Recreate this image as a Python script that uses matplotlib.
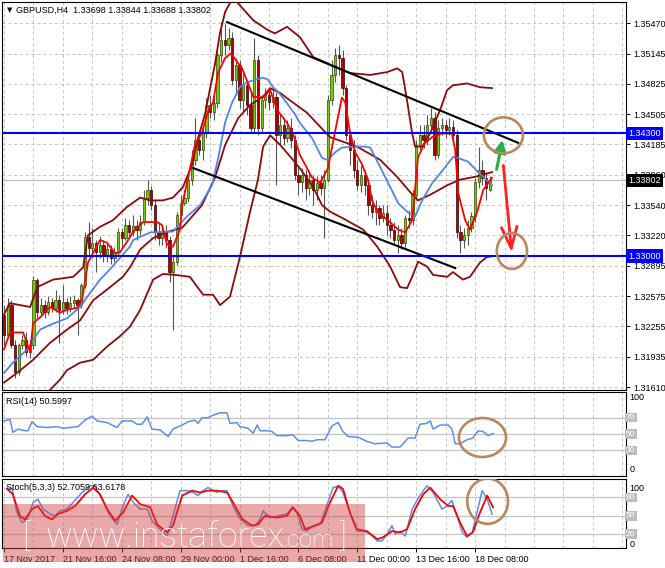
import matplotlib
matplotlib.use("Agg")
import matplotlib.pyplot as plt
from matplotlib.patches import Ellipse, Rectangle

plt.rcParams['font.family'] = ['Liberation Sans', 'DejaVu Sans']

# ---------------- data (GBPUSD H4, bar index 0 = 17 Nov 2017 00:00) ----------------
opens = [1.3238, 1.3216, 1.3248, 1.3206, 1.3177, 1.3206, 1.3211, 1.3198, 1.3206, 1.3275,
         1.3241, 1.3248, 1.3241, 1.3251, 1.3245, 1.3253, 1.3243, 1.3251, 1.3245, 1.3250,
         1.3253, 1.3248, 1.3269, 1.3320, 1.3309, 1.3314, 1.3304, 1.3312, 1.3301, 1.3307,
         1.3298, 1.3304, 1.3325, 1.3319, 1.3333, 1.3326, 1.3332, 1.3328, 1.3336, 1.3362,
         1.3370, 1.3354, 1.3326, 1.3319, 1.3326, 1.3317, 1.3283, 1.3294, 1.3344, 1.3356,
         1.3362, 1.3381, 1.3402, 1.3423, 1.3412, 1.3431, 1.3460, 1.3453, 1.3462, 1.3513,
         1.3529, 1.3524, 1.3531, 1.3487, 1.3503, 1.3465, 1.3481, 1.3460, 1.3436, 1.3508,
         1.3436, 1.3465, 1.3471, 1.3463, 1.3469, 1.3428, 1.3439, 1.3425, 1.3436, 1.3423,
         1.3386, 1.3378, 1.3386, 1.3372, 1.3381, 1.3370, 1.3377, 1.3372, 1.3381, 1.3465,
         1.3492, 1.3513, 1.3510, 1.3478, 1.3428, 1.3412, 1.3391, 1.3375, 1.3386, 1.3375,
         1.3354, 1.3347, 1.3351, 1.3340, 1.3346, 1.3333, 1.3328, 1.3317, 1.3322, 1.3314,
         1.3340, 1.3338, 1.3365, 1.3418, 1.3428, 1.3423, 1.3439, 1.3446, 1.3407, 1.3436,
         1.3439, 1.3434, 1.3437, 1.3428, 1.3326, 1.3317, 1.3322, 1.3330, 1.3342, 1.3378,
         1.3391, 1.3383, 1.33698]
highs = [1.3248, 1.3256, 1.3253, 1.3211, 1.3208, 1.3216, 1.3219, 1.3211, 1.3279, 1.3277,
         1.3256, 1.3253, 1.3258, 1.3256, 1.3264, 1.3259, 1.3269, 1.3256, 1.3258, 1.3259,
         1.3256, 1.3271, 1.3325, 1.3336, 1.3330, 1.3317, 1.3321, 1.3317, 1.3314, 1.3312,
         1.3310, 1.3330, 1.3330, 1.3340, 1.3338, 1.3344, 1.3338, 1.3344, 1.3370, 1.3381,
         1.3374, 1.3359, 1.3336, 1.3333, 1.3333, 1.3321, 1.3301, 1.3347, 1.3365, 1.3370,
         1.3386, 1.3412, 1.3446, 1.3431, 1.3436, 1.3468, 1.3471, 1.3470, 1.3518, 1.3548,
         1.3546, 1.3542, 1.3537, 1.3510, 1.3508, 1.3495, 1.3487, 1.3476, 1.3531, 1.3513,
         1.3471, 1.3478, 1.3476, 1.3478, 1.3474, 1.3450, 1.3446, 1.3444, 1.3446, 1.3428,
         1.3397, 1.3393, 1.3391, 1.3389, 1.3386, 1.3385, 1.3386, 1.3391, 1.3471, 1.3508,
         1.3521, 1.3524, 1.3518, 1.3481, 1.3434, 1.3423, 1.3402, 1.3397, 1.3391, 1.3381,
         1.3365, 1.3359, 1.3354, 1.3354, 1.3354, 1.3340, 1.3336, 1.3333, 1.3330, 1.3344,
         1.3349, 1.3370, 1.3423, 1.3439, 1.3439, 1.3450, 1.3457, 1.3453, 1.3444, 1.3446,
         1.3444, 1.3446, 1.3444, 1.3434, 1.3333, 1.3330, 1.3338, 1.3347, 1.3383, 1.3416,
         1.3402, 1.3389, 1.33844]
lows = [1.3206, 1.3213, 1.3203, 1.3171, 1.3174, 1.3201, 1.3194, 1.3192, 1.3201, 1.3234,
        1.3237, 1.3234, 1.3238, 1.3241, 1.3241, 1.3208, 1.3239, 1.3239, 1.3241, 1.3245,
        1.3216, 1.3245, 1.3266, 1.3301, 1.3298, 1.3283, 1.3298, 1.3294, 1.3294, 1.3292,
        1.3294, 1.3300, 1.3309, 1.3317, 1.3319, 1.3321, 1.3317, 1.3322, 1.3333, 1.3354,
        1.3349, 1.3317, 1.3312, 1.3312, 1.3309, 1.3273, 1.3222, 1.3291, 1.3340, 1.3354,
        1.3357, 1.3375, 1.3397, 1.3407, 1.3402, 1.3425, 1.3446, 1.3444, 1.3457, 1.3506,
        1.3513, 1.3518, 1.3481, 1.3471, 1.3457, 1.3453, 1.3450, 1.3431, 1.3431, 1.3428,
        1.3430, 1.3457, 1.3455, 1.3457, 1.3375, 1.3418, 1.3418, 1.3421, 1.3415, 1.3381,
        1.3365, 1.3368, 1.3359, 1.3365, 1.3354, 1.3359, 1.3365, 1.3319, 1.3378, 1.3460,
        1.3484, 1.3492, 1.3471, 1.3423, 1.3397, 1.3383, 1.3370, 1.3368, 1.3365, 1.3344,
        1.3340, 1.3333, 1.3333, 1.3336, 1.3322, 1.3319, 1.3312, 1.3303, 1.3307, 1.3310,
        1.3330, 1.3333, 1.3359, 1.3412, 1.3415, 1.3418, 1.3434, 1.3402, 1.3404, 1.3428,
        1.3425, 1.3428, 1.3423, 1.3319, 1.3303, 1.3309, 1.3312, 1.3326, 1.3336, 1.3372,
        1.3375, 1.3359, 1.33688]
closes = [1.3216, 1.3248, 1.3206, 1.3177, 1.3206, 1.3211, 1.3198, 1.3206, 1.3275, 1.3241,
          1.3248, 1.3241, 1.3251, 1.3245, 1.3253, 1.3243, 1.3251, 1.3245, 1.3250, 1.3253,
          1.3248, 1.3269, 1.3320, 1.3309, 1.3314, 1.3304, 1.3312, 1.3301, 1.3307, 1.3298,
          1.3304, 1.3325, 1.3319, 1.3333, 1.3326, 1.3332, 1.3328, 1.3336, 1.3362, 1.3370,
          1.3354, 1.3326, 1.3319, 1.3326, 1.3317, 1.3283, 1.3294, 1.3344, 1.3356, 1.3362,
          1.3381, 1.3402, 1.3423, 1.3412, 1.3431, 1.3460, 1.3453, 1.3462, 1.3513, 1.3529,
          1.3524, 1.3531, 1.3487, 1.3503, 1.3465, 1.3481, 1.3460, 1.3436, 1.3508, 1.3436,
          1.3465, 1.3471, 1.3463, 1.3469, 1.3428, 1.3439, 1.3425, 1.3436, 1.3423, 1.3386,
          1.3378, 1.3386, 1.3372, 1.3381, 1.3370, 1.3377, 1.3372, 1.3381, 1.3465, 1.3492,
          1.3513, 1.3510, 1.3478, 1.3428, 1.3412, 1.3391, 1.3375, 1.3386, 1.3375, 1.3354,
          1.3347, 1.3351, 1.3340, 1.3346, 1.3333, 1.3328, 1.3317, 1.3322, 1.3314, 1.3340,
          1.3338, 1.3365, 1.3418, 1.3428, 1.3423, 1.3439, 1.3446, 1.3407, 1.3436, 1.3439,
          1.3434, 1.3437, 1.3428, 1.3326, 1.3317, 1.3322, 1.3330, 1.3342, 1.3378, 1.3391,
          1.3383, 1.3372, 1.33802]

# fast moving average (red)
fast_x = [0, 1.6, 5.2, 7.1, 7.9, 9.8, 12.5, 15.2, 17.1, 19.8, 21.2, 22.8, 24.7, 26.1, 28, 30.2,
          31.5, 33.4, 35.1, 37.8, 41.6, 42.9, 44.3, 45.9, 47.8, 48.4, 50, 51.9, 53.8, 55.4, 56.8,
          58.2, 60.1, 61.7, 63.3, 64.7, 67.7, 70.4, 72.3, 74.2, 76.9, 78.5, 80.4, 81.8, 83.7,
          85.9, 88, 89.9, 91.8, 92.7, 94, 95.4, 97.3, 98.9, 100, 101.6, 104.3, 107.1, 109, 110.9,
          112.5, 114.4, 116.3, 119, 121.7, 122.6, 123.4, 125.3, 126.6, 128.5, 130.2, 132.6]
fast_ma = [1.3201, 1.3219, 1.3219, 1.3198, 1.3229, 1.3235, 1.3246, 1.3240, 1.3243, 1.3245,
           1.3253, 1.3293, 1.3307, 1.3317, 1.3314, 1.3303, 1.3304, 1.3315, 1.3326, 1.3336,
           1.3336, 1.3333, 1.3312, 1.3310, 1.3328, 1.3354, 1.3383, 1.3418, 1.3431, 1.3453,
           1.3463, 1.3495, 1.3510, 1.3515, 1.3506, 1.3499, 1.3469, 1.3468, 1.3476, 1.3455,
           1.3441, 1.3430, 1.3407, 1.3397, 1.3383, 1.3378, 1.3393, 1.3431, 1.3468, 1.3463,
           1.3431, 1.3410, 1.3397, 1.3381, 1.3359, 1.3346, 1.3338, 1.3328, 1.3325, 1.3338,
           1.3405, 1.3420, 1.3426, 1.3430, 1.3430, 1.3412, 1.3367, 1.3338, 1.3328, 1.3346,
           1.3370, 1.3383]

# slow moving average (blue)
slow_x = [0, 2.4, 6.3, 9.8, 12.5, 17.1, 20.7, 23.4, 26.1, 28.8, 31.5, 34.2, 35.1, 39.7, 45.9,
          49.7, 53.3, 56.5, 58.2, 60.1, 62, 64.1, 66, 68.2, 70.4, 71.7, 73.1, 74.5, 76.9, 79.1,
          80.4, 83.7, 86.4, 87.8, 90, 91.8, 95.4, 98.1, 99.5, 101.6, 104.3, 107.1, 109.8, 111.7,
          113.6, 116.3, 119.8, 122, 123.4, 126.1, 128.8, 132.6]
slow_ma = [1.3176, 1.3187, 1.3201, 1.3222, 1.3227, 1.3234, 1.3246, 1.3261, 1.3275, 1.3286,
           1.3298, 1.3310, 1.3317, 1.3325, 1.3326, 1.3342, 1.3354, 1.3375, 1.3404, 1.3442,
           1.3463, 1.3479, 1.3484, 1.3487, 1.3489, 1.3487, 1.3479, 1.3474, 1.3462, 1.3450,
           1.3441, 1.3425, 1.3404, 1.3402, 1.3410, 1.3415, 1.3416, 1.3416, 1.3415, 1.3399,
           1.3378, 1.3356, 1.3346, 1.3342, 1.3359, 1.3377, 1.3394, 1.3405, 1.3404, 1.3400,
           1.3389, 1.3375]

# Bollinger bands (dark red)
bb_up_x = [0, 1.6, 7.1, 9, 13.3, 18.8, 21.5, 22.8, 26.1, 29.6, 33.4, 37, 39.7, 43.2, 45.9,
           48.6, 51.1, 52.7, 54.6, 56, 57.3, 58.7, 60.1, 62.2, 67.7, 71.5, 73.6, 76.9, 80.4,
           84, 88.6, 94, 99.5, 104.1, 106.8, 108.2, 109.5, 110.9, 111.7, 113.6, 115.8, 118.5,
           120.4, 122, 125.8, 129.3, 132.6]
bb_up = [1.3238, 1.3250, 1.3246, 1.3267, 1.3275, 1.3278, 1.3288, 1.3322, 1.3331, 1.3338,
         1.3352, 1.3362, 1.3359, 1.3359, 1.3362, 1.3373, 1.3397, 1.3425, 1.3450, 1.3478,
         1.3503, 1.3537, 1.3559, 1.3574, 1.3550, 1.3540, 1.3536, 1.3543, 1.3532, 1.3511,
         1.3503, 1.3494, 1.3492, 1.3495, 1.3499, 1.3495, 1.3465, 1.3430, 1.3416, 1.3416,
         1.3430, 1.3455, 1.3476, 1.3481, 1.3483, 1.3479, 1.3478]
bb_mid_x = [0, 3.5, 7.9, 12.5, 17.1, 20.7, 24.2, 28.8, 32.3, 34.2, 37, 40.5, 43.8, 48.4, 53.8,
            57.3, 60.1, 63.6, 66.8, 70.4, 72.3, 75, 77.7, 82.3, 85.9, 88.6, 95.9, 102.2, 106.8,
            110.3, 112.5, 115.8, 120.4, 123.9, 128, 132.6]
bb_mid = [1.3166, 1.3176, 1.3190, 1.3208, 1.3222, 1.3232, 1.3253, 1.3267, 1.3278, 1.3288,
          1.3307, 1.3319, 1.3325, 1.3330, 1.3354, 1.3383, 1.3418, 1.3446, 1.3460, 1.3469,
          1.3478, 1.3473, 1.3465, 1.3452, 1.3437, 1.3426, 1.3416, 1.3402, 1.3384, 1.3368,
          1.3359, 1.3365, 1.3375, 1.3381, 1.3384, 1.3389]
bb_low_x = [0, 7.1, 12.5, 15.2, 17.1, 20.7, 24.2, 28, 31.5, 34.2, 37, 40.5, 43.2, 46.5, 50.5,
            54.1, 56.8, 58.7, 61.4, 64.1, 66.8, 69, 70.4, 72.3, 75, 78.5, 80.4, 84, 86.4, 88.6,
            92.1, 97.6, 101.4, 104.9, 107.6, 109.5, 110.9, 112.5, 114.9, 116.6, 120.4, 122,
            124.7, 126.6, 129.3, 131.2, 132.9]
bb_low = [1.3105, 1.3137, 1.3158, 1.3169, 1.3179, 1.3187, 1.3190, 1.3204, 1.3215, 1.3225,
          1.3243, 1.3275, 1.3281, 1.3280, 1.3278, 1.3259, 1.3259, 1.3248, 1.3257, 1.3299,
          1.3346, 1.3381, 1.3416, 1.3428, 1.3418, 1.3402, 1.3393, 1.3373, 1.3354, 1.3347,
          1.3340, 1.3328, 1.3310, 1.3289, 1.3267, 1.3266, 1.3278, 1.3294, 1.3289, 1.3280,
          1.3278, 1.3283, 1.3275, 1.3278, 1.3293, 1.3299, 1.3300]

# RSI(14)
rsi_x = [0, 1.6, 2.4, 3.8, 5.7, 6.5, 7.6, 9, 11.7, 14.4, 16, 17.9, 20.1, 22, 23.9, 25.3, 28,
         30.7, 32.1, 34.8, 36.1, 37.5, 38.9, 40.2, 42.4, 44.6, 45.9, 48.4, 50, 51.9, 52.7, 53.8,
         55.4, 56.8, 58.7, 60.6, 61.4, 63.3, 64.1, 66.3, 67.7, 68.8, 69.6, 71.5, 72.8, 74.2,
         76.9, 78.5, 79.9, 82.3, 83.7, 85.1, 87.2, 89.1, 90.8, 92.1, 93.5, 96.2, 98.6, 100.8,
         104.1, 105.4, 107.6, 109.8, 111.7, 113, 114.9, 115.8, 116.6, 118.5, 120.7, 121.7,
         122.6, 123.9, 125.8, 127.4, 128.8, 130.2, 131.5, 132.9]
rsi = [66, 68, 52, 56, 54, 54, 65, 59, 58, 59, 57, 58, 59, 67, 72, 66, 64, 58, 66, 66, 62, 62,
       71, 56, 55, 47, 56, 61, 65, 67, 63, 70, 70, 73, 76, 76, 63, 64, 59, 57, 51, 61, 54, 54,
       53, 48, 48, 49, 42, 42, 41, 43, 43, 60, 64, 53, 47, 46, 41, 38, 39, 34, 34, 45, 45, 62,
       63, 66, 56, 61, 61, 56, 38, 38, 43, 45, 54, 53, 48, 50.6]

# Stochastic(5,3,3): main (blue) and signal (red)
stk_x = [0.8, 2.2, 3.5, 4.9, 6.3, 7.9, 9.2, 10.6, 12.5, 13.9, 15.2, 17.1, 18.8, 21.2, 23.4,
         24.7, 26.1, 28.8, 30.7, 32.3, 33.7, 35.1, 37, 38.9, 40.2, 42.4, 44.3, 45.7, 47.8, 50,
         51.4, 52.7, 54.1, 55.4, 57.9, 59.2, 60.6, 62.2, 64.1, 66.3, 68.2, 69.6, 70.4, 72.3,
         74.5, 76.9, 78.3, 79.6, 81, 82.3, 84, 85.9, 88, 89.4, 90.8, 92.1, 94.6, 95.9, 97.6,
         99.5, 101.4, 102.7, 104.1, 105.4, 106.3, 107.6, 109, 110.9, 113, 114.9, 116.6, 119,
         120.4, 121.7, 123.1, 124.5, 125.8, 127.2, 128.5, 129.9, 131.3, 132.6]
stk_main = [95, 94, 55, 39, 44, 72, 77, 61, 53, 50, 58, 61, 72, 88, 99, 99, 83, 50, 36, 66, 85,
            72, 61, 61, 42, 28, 17, 45, 91, 91, 88, 83, 91, 96, 88, 91, 91, 66, 45, 34, 34, 45,
            58, 47, 50, 53, 64, 55, 28, 25, 34, 36, 72, 96, 98, 88, 45, 25, 25, 20, 9, 9, 20, 34,
            20, 25, 17, 61, 83, 99, 88, 61, 66, 75, 50, 23, 15, 23, 55, 91, 77, 52.7]
sig_x = [0.8, 2.4, 4.3, 5.7, 7.6, 9.2, 11.1, 13, 14.7, 17.1, 19.3, 22, 24.2, 26.1, 28, 30.2,
         32.3, 34.8, 37, 39.7, 41.6, 44.3, 45.9, 48.4, 51.1, 53.3, 55.4, 57.9, 60.6, 62.2, 64.7,
         67.4, 69, 70.9, 74.2, 76.9, 78.5, 80.4, 81.8, 84.5, 86.4, 88.6, 90.8, 92.1, 94, 95.9,
         98.6, 101.4, 103, 105.4, 107.6, 109.5, 111.7, 113.9, 115.8, 118.5, 120.7, 122, 123.9,
         125.8, 127.4, 129.3, 131.3, 132.9]
stk_signal = [94, 85, 50, 44, 61, 66, 50, 44, 53, 58, 66, 85, 96, 85, 61, 42, 55, 83, 69, 64,
              36, 23, 34, 83, 91, 88, 91, 91, 88, 72, 45, 34, 36, 50, 47, 50, 64, 50, 28, 34,
              39, 72, 99, 94, 55, 28, 25, 12, 15, 25, 23, 28, 61, 85, 96, 77, 66, 66, 39, 17,
              23, 55, 83, 63.6]

# chart annotations
channel_top = ([60.6, 139.7], [1.3548, 1.3420])
channel_bottom = ([51.4, 122.6], [1.33933, 1.32873])
levels = [1.3430, 1.3300]
last_price = 1.33802
price_ticks = [1.35470, 1.35145, 1.34825, 1.34505, 1.34185, 1.33860, 1.33540,
               1.33220, 1.32895, 1.32575, 1.32255, 1.31935, 1.31610]
date_labels = ['17 Nov 2017', '21 Nov 16:00', '24 Nov 08:00', '29 Nov 00:00', '1 Dec 16:00',
               '6 Dec 08:00', '11 Dec 00:00', '13 Dec 16:00', '18 Dec 08:00']

GRID = dict(color='#c4c4c4', lw=0.7, ls=(0, (3, 3)), zorder=0)
BROWN = '#b9875f'
MAROON = '#8b0a0a'
XMAX = 169


def candles(ax):
    for i in range(len(closes)):
        o, h, l, c = opens[i], highs[i], lows[i], closes[i]
        up = c >= o
        ax.vlines(i, l, h, color='#555555', lw=0.8, zorder=2)
        ax.bar(i, max(abs(c - o), 0.00004), bottom=min(o, c), width=0.62,
               color='#76cc00' if up else '#b00000',
               edgecolor='#2f4a00' if up else '#3a0000', lw=0.5, zorder=3)


def vgrid(ax):
    for b in range(0, XMAX, 8):
        ax.axvline(b, **GRID)


def level_box(ax, y, txt):
    ax.text(1.0, y, txt, transform=ax.get_yaxis_transform(), ha='left', va='center',
            fontsize=6, color='white', clip_on=False,
            bbox=dict(boxstyle='square,pad=0.15', fc='#bdbdbd', ec='none'))


fig = plt.figure(figsize=(6.65, 5.68), dpi=100)
W, H = 665.0, 568.0
left, width = 2 / W, 624 / W
ax = fig.add_axes([left, 1 - 390 / H, width, 388 / H])
ax_rsi = fig.add_axes([left, 1 - 476 / H, width, 84 / H])
ax_st = fig.add_axes([left, 1 - 548 / H, width, 69 / H])

for a in (ax, ax_rsi, ax_st):
    a.set_xlim(-0.55, XMAX)
    for s in a.spines.values():
        s.set_color('black')
        s.set_linewidth(0.8)
    vgrid(a)

# ---------------- main price panel ----------------
ax.set_ylim(1.3158, 1.35693)
for p in price_ticks:
    ax.axhline(p, **GRID)
ax.axhline(last_price, color='#bdbdbd', lw=0.9, zorder=1)

candles(ax)
ax.plot(bb_up_x, bb_up, color=MAROON, lw=1.3, zorder=4)
ax.plot(bb_mid_x, bb_mid, color=MAROON, lw=1.3, zorder=4)
ax.plot(bb_low_x, bb_low, color=MAROON, lw=1.3, zorder=4)
ax.plot(slow_x, slow_ma, color='#4f86e6', lw=1.3, zorder=5)
ax.plot(fast_x, fast_ma, color='#ff0000', lw=1.3, zorder=6)
ax.plot(*channel_top, color='black', lw=1.5, zorder=7)
ax.plot(*channel_bottom, color='black', lw=1.5, zorder=7)
for lv in levels:
    ax.axhline(lv, color='#0000ff', lw=1.5, zorder=7)

# forecast arrows and circles
ax.annotate('', xy=(135.6, 1.3426), xytext=(133.7, 1.3389),
            arrowprops=dict(arrowstyle='-|>,head_length=0.6,head_width=0.3', color='#20b040',
                            lw=2.2, mutation_scale=12), zorder=8)
ax.annotate('', xy=(138.0, 1.3301), xytext=(135.6, 1.3399),
            arrowprops=dict(arrowstyle='->,head_length=1.1,head_width=0.4', color='#ff2020',
                            lw=2.0, mutation_scale=14), zorder=8)
ax.add_patch(Ellipse((135.7, 1.3428), 10.6, 0.0038, fill=False, ec=BROWN, lw=1.9, zorder=9))
ax.add_patch(Ellipse((138.0, 1.33053), 8.2, 0.0038, fill=False, ec=BROWN, lw=1.9, zorder=9))

ax.set_xticks([])
ax.yaxis.tick_right()
ax.set_yticks(price_ticks)
ax.set_yticklabels(['%.5f' % p for p in price_ticks])
ax.tick_params(axis='y', labelsize=6.5, length=3, pad=2, width=0.7)

for lv in levels:
    ax.text(1.004, lv, '%.5f' % lv, transform=ax.get_yaxis_transform(), ha='left',
            va='center', fontsize=6.5, color='white', clip_on=False, zorder=10,
            bbox=dict(boxstyle='square,pad=0.25', fc='#0000ff', ec='none'))
ax.text(1.004, last_price, '%.5f' % last_price, transform=ax.get_yaxis_transform(),
        ha='left', va='center', fontsize=6.5, color='white', clip_on=False, zorder=10,
        bbox=dict(boxstyle='square,pad=0.25', fc='black', ec='none'))

ax.text(5 / 624, 1 - 8 / 388, '\u25bc', transform=ax.transAxes, fontsize=5, va='center',
        family=['DejaVu Sans'])
ax.text(14 / 624, 1 - 8 / 388, 'GBPUSD,H4  1.33698 1.33844 1.33688 1.33802',
        transform=ax.transAxes, fontsize=6.5, va='center')

# ---------------- RSI panel ----------------
ax_rsi.set_ylim(-1.5, 101.5)
for lv in (70, 50, 30):
    ax_rsi.axhline(lv, color='#c4c4c4', lw=0.9, zorder=1)
ax_rsi.plot(rsi_x, rsi, color='#5b8fe8', lw=1.1, zorder=3)
ax_rsi.add_patch(Ellipse((130, 45.7), 12.8, 47.8, fill=False, ec=BROWN, lw=1.9, zorder=4))
ax_rsi.set_xticks([])
ax_rsi.set_yticks([])
ax_rsi.text(4 / 624, 1 - 9 / 84, 'RSI(14) 50.5997', transform=ax_rsi.transAxes,
            fontsize=6.5, va='center')
ax_rsi.text(1.006, 0.935, '100', transform=ax_rsi.transAxes, fontsize=6.5, va='center')
ax_rsi.text(1.006, 0.075, '0', transform=ax_rsi.transAxes, fontsize=6.5, va='center')
for lv in (70, 50, 30):
    level_box(ax_rsi, lv, str(lv))

# ---------------- Stochastic panel ----------------
ax_st.set_ylim(-2.5, 110)
for lv in (80, 50, 20):
    ax_st.axhline(lv, color='#c4c4c4', lw=0.9, zorder=1)
ax_st.plot(stk_x, stk_main, color='#5b8fe8', lw=1.1, zorder=3)
ax_st.plot(sig_x, stk_signal, color='#ff0000', lw=1.3, zorder=4)
ax_st.add_patch(Ellipse((131.4, 73.8), 11.1, 73.8, fill=False, ec=BROWN, lw=1.9, zorder=5))
ax_st.set_yticks([])
ax_st.text(4 / 624, 1 - 8 / 69, 'Stoch(5,3,3) 52.7059 63.6178', transform=ax_st.transAxes,
           fontsize=6.5, va='center')
ax_st.text(1.006, 0.86, '100', transform=ax_st.transAxes, fontsize=6.5, va='center')
ax_st.text(1.006, 0.045, '0', transform=ax_st.transAxes, fontsize=6.5, va='center')
for lv in (80, 50, 20):
    level_box(ax_st, lv, str(lv))

ax_st.set_xticks(range(0, 129, 16))
ax_st.set_xticklabels(date_labels, ha='left')
ax_st.tick_params(axis='x', labelsize=6.5, length=3, pad=2, width=0.7)

# ---------------- watermark ----------------
fig.add_artist(Rectangle((3 / W, 1 - 562 / H), 362 / W, 58 / H, transform=fig.transFigure,
                         fc='#d04040', ec='none', alpha=0.45, zorder=20))
wm = dict(color='white', family=['Roboto', 'DejaVu Sans'], weight='light', va='baseline',
          zorder=21)
fig.text(22 / W, 1 - 546 / H, '[', fontsize=23, **wm)
fig.text(46 / W, 1 - 547 / H, 'www.instaforex', fontsize=25.5, **wm)
fig.text(282 / W, 1 - 547 / H, '.com', fontsize=17, **wm)
fig.text(339 / W, 1 - 546 / H, ']', fontsize=23, **wm)

fig.savefig('out.png', dpi=100, facecolor='white')
